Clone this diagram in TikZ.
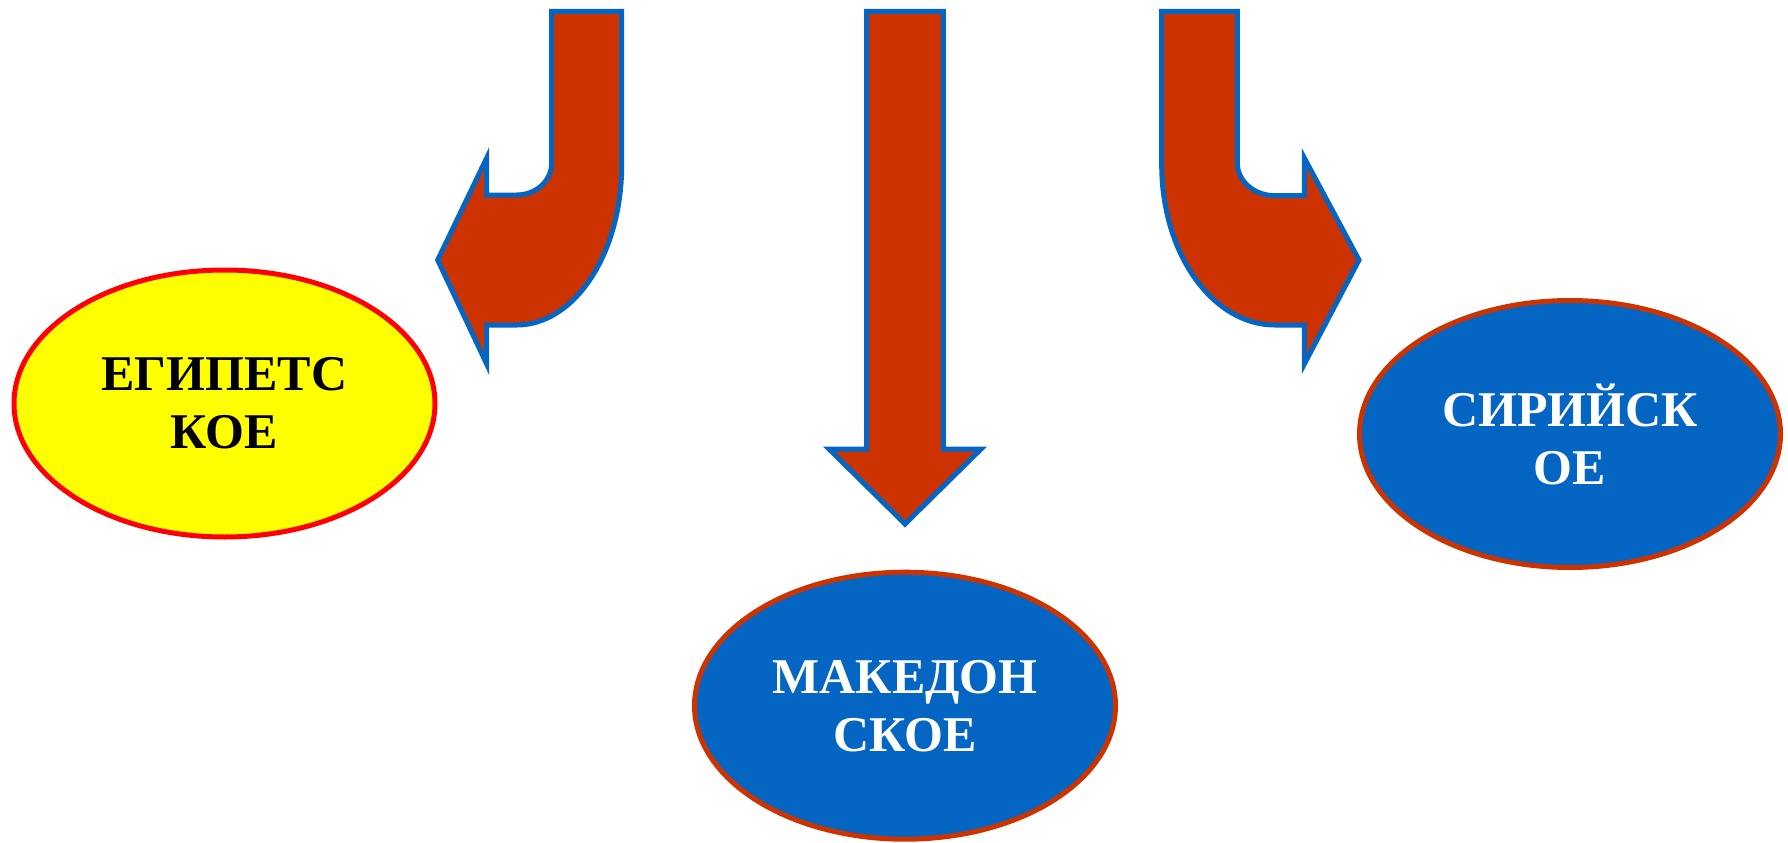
\documentclass[tikz,border=0pt]{standalone}
\usepackage{fontspec}
\setmainfont{Liberation Serif}
\usetikzlibrary{shapes.geometric}
\definecolor{arrowred}{HTML}{CC3300}
\definecolor{ablue}{HTML}{0565C2}
\definecolor{yel}{HTML}{FFFF00}
\definecolor{rd}{HTML}{FF0000}
\tikzset{
  bigarrow/.style={fill=arrowred, draw=ablue, line width=5pt, line join=miter},
  oval/.style={ellipse, inner sep=0pt, minimum width=421pt, minimum height=267pt, line width=5pt, align=center, font=\fontsize{50}{58}\selectfont\bfseries},
  blueoval/.style={oval, fill=ablue, draw=arrowred, text=white},
  yeloval/.style={oval, fill=yel, draw=rd, text=black}
}
\begin{document}
\begin{tikzpicture}[x=1pt,y=1pt]
\useasboundingbox[fill=white] (0,0) rectangle (1788,-843);
% left bent arrow
\draw[bigarrow] (551.7,-11.5) -- (621.7,-11.5) -- (621.7,-165)
  arc[start angle=0,end angle=-90,x radius=105,y radius=160]
  -- (486.7,-325) -- (486.7,-364) -- (437.7,-260) -- (486.7,-158) -- (486.7,-195) -- (516.7,-195)
  arc[start angle=-90,end angle=0,x radius=35,y radius=32] -- cycle;
% center straight arrow
\draw[bigarrow] (866.7,-11.5) -- (943.3,-11.5) -- (943.3,-449) -- (981,-449) -- (905,-524) -- (829,-449) -- (866.7,-449) -- cycle;
% right bent arrow
\draw[bigarrow] (1161.7,-11.5) -- (1237.3,-11.5) -- (1237.3,-163)
  arc[start angle=180,end angle=270,x radius=37.7,y radius=32.7]
  -- (1304.3,-195.7) -- (1304.3,-158) -- (1359,-260) -- (1304.3,-364) -- (1304.3,-325) -- (1275,-325)
  arc[start angle=270,end angle=180,x radius=113.3,y radius=160] -- cycle;
% ovals
\node[yeloval] (egypt) at (224.5,-403.5) {ЕГИПЕТС\\КОЕ};
\node[blueoval] (maced) at (905,-705.7) {МАКЕДОН\\СКОЕ};
\node[blueoval] (syria) at (1570,-434) {СИРИЙСК\\ОЕ};
\end{tikzpicture}
\end{document}
